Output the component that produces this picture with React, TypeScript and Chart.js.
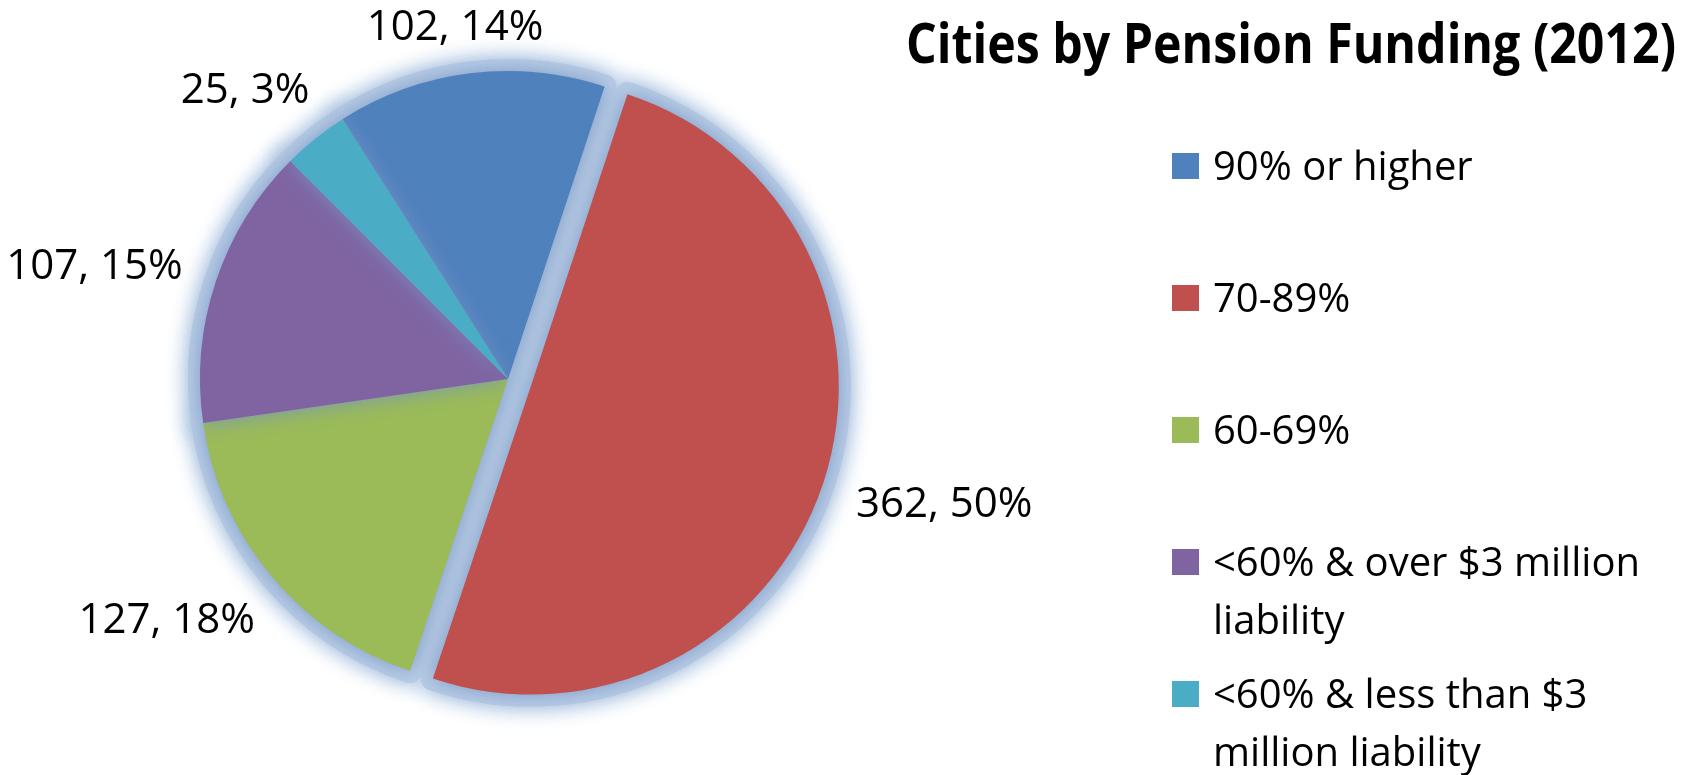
import React, { useEffect, useRef } from 'react';
import { Chart, registerables } from 'chart.js';

Chart.register(...registerables);

// ---- data ----
const categories = [
  '90% or higher',
  '70-89%',
  '60-69%',
  '<60% & over $3 million liability',
  '<60% & less than $3 million liability',
];
const cityCounts = [102, 362, 127, 107, 25];
const sliceColors = ['#4F81BD', '#C0504D', '#9BBB59', '#8064A2', '#4BACC6'];
const explodeOffsets = [0, 24, 0, 0, 0];
const chartTitle = 'Cities by Pension Funding (2012)';

const FONT = '"Open Sans", "Noto Sans", sans-serif';
const GLOW = '#b9cde5';

function sliceCenter(arc: any, i: number) {
  const mid = (arc.startAngle + arc.endAngle) / 2;
  const off = explodeOffsets[i] || 0;
  return { cx: arc.x + Math.cos(mid) * off, cy: arc.y + Math.sin(mid) * off, mid };
}

const pieDrawPlugin = {
  id: 'pieDraw',
  beforeDatasetDraw(chart: any, args: any) {
    const ctx = chart.ctx;
    const arcs = args.meta.data;
    // soft outer glow
    arcs.forEach((arc: any, i: number) => {
      const { cx, cy } = sliceCenter(arc, i);
      ctx.save();
      ctx.beginPath();
      ctx.moveTo(cx, cy);
      ctx.arc(cx, cy, arc.outerRadius, arc.startAngle, arc.endAngle);
      ctx.closePath();
      ctx.lineJoin = 'round';
      ctx.lineWidth = 24;
      ctx.strokeStyle = GLOW;
      ctx.shadowColor = GLOW;
      ctx.shadowBlur = 22;
      ctx.stroke();
      ctx.stroke();
      ctx.restore();
    });
    // slices (drawn by the library's arc elements), exploded where needed
    arcs.forEach((arc: any, i: number) => {
      const { cx, cy } = sliceCenter(arc, i);
      ctx.save();
      ctx.translate(cx - arc.x, cy - arc.y);
      ctx.shadowColor = 'rgba(115,145,195,0.9)';
      ctx.shadowBlur = 20;
      arc.draw(ctx);
      ctx.restore();
    });
    return false;
  },
  afterDatasetsDraw(chart: any) {
    const ctx = chart.ctx;
    const meta = chart.getDatasetMeta(0);
    const total = cityCounts.reduce((a, b) => a + b, 0);
    ctx.save();
    const size = 42;
    ctx.font = `${size}px ${FONT}`;
    ctx.fillStyle = '#000';
    ctx.textAlign = 'center';
    ctx.textBaseline = 'alphabetic';
    meta.data.forEach((arc: any, i: number) => {
      const { cx, cy, mid } = sliceCenter(arc, i);
      const text = `${cityCounts[i]}, ${Math.round((cityCounts[i] / total) * 100)}%`;
      const w = ctx.measureText(text).width;
      const h = 34;
      const dx = Math.cos(mid);
      const dy = Math.sin(mid);
      const R = arc.outerRadius + 26 + 45 * Math.abs(dx * dy);
      const x = cx + dx * R + (dx * w) / 2;
      const y = cy + dy * R + (dy * h) / 2;
      ctx.fillText(text, x, y + size * 0.357);
    });
    ctx.restore();
  },
  afterDraw(chart: any) {
    const ctx = chart.ctx;
    ctx.save();
    // title
    ctx.fillStyle = '#000';
    ctx.font = `bold 55px ${FONT}`;
    ctx.textAlign = 'center';
    ctx.textBaseline = 'alphabetic';
    ctx.fillText(chartTitle, 1291, 63, 770);

    // legend
    const legendX = 1172;
    const textX = 1213;
    const maxW = 455;
    ctx.font = `40px ${FONT}`;
    ctx.textAlign = 'left';
    categories.forEach((label, i) => {
      const top = 153 + i * 132;
      ctx.fillStyle = sliceColors[i];
      ctx.fillRect(legendX, top, 27, 26);
      ctx.fillStyle = '#000';
      const words = label.split(' ');
      const lines: string[] = [];
      let cur = '';
      words.forEach((wd) => {
        const test = cur ? cur + ' ' + wd : wd;
        if (ctx.measureText(test).width > maxW && cur) {
          lines.push(cur);
          cur = wd;
        } else {
          cur = test;
        }
      });
      if (cur) lines.push(cur);
      lines.forEach((ln, k) => {
        ctx.fillText(ln, textX, top + 27 + k * 58);
      });
    });
    ctx.restore();
  },
};

export default function App() {
  const canvasRef = useRef<HTMLCanvasElement>(null);

  useEffect(() => {
    document.body.style.margin = '0';
    const canvas = canvasRef.current;
    if (!canvas) return;
    const chart = new Chart(canvas, {
      type: 'pie',
      data: {
        labels: categories,
        datasets: [
          {
            data: cityCounts,
            backgroundColor: sliceColors,
            borderWidth: 0,
          },
        ],
      },
      options: {
        responsive: false,
        animation: false,
        devicePixelRatio: 1,
        rotation: -32.5,
        radius: 308,
        layout: { padding: { left: 0, top: 0, right: 682, bottom: 17 } },
        plugins: {
          legend: { display: false },
          title: { display: false },
          tooltip: { enabled: false },
        },
        events: [],
      },
      plugins: [pieDrawPlugin],
    });
    return () => chart.destroy();
  }, []);

  return (
    <div style={{ position: 'absolute', left: 0, top: 0, width: 1698, height: 775, background: '#fff' }}>
      <canvas ref={canvasRef} width={1698} height={775} style={{ display: 'block' }} />
    </div>
  );
}
